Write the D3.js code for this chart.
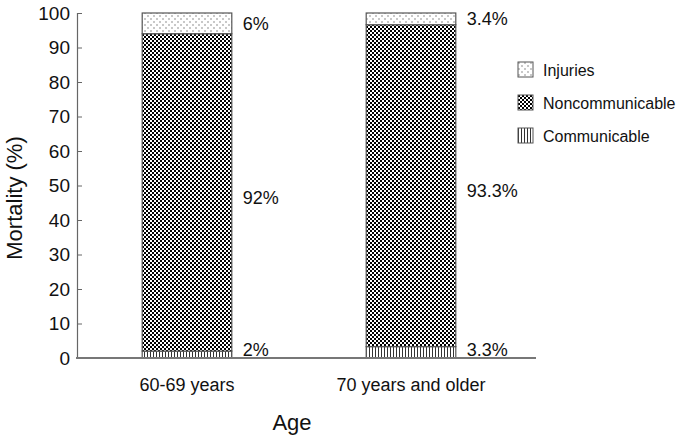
<!DOCTYPE html>
<html>
<head>
<meta charset="utf-8">
<script src="https://cdn.jsdelivr.net/npm/d3@7"></script>
<style>
  body { margin: 0; background: #fff; }
  text { font-family: "Liberation Sans", Arial, sans-serif; fill: #111; }
</style>
</head>
<body>
<div id="chart"></div>
<script>
// data
var ageGroups = ["60-69 years", "70 years and older"];
var communicable = [2, 3.3];
var noncommunicable = [92, 93.3];
var injuries = [6, 3.4];
var seriesNames = ["Communicable", "Noncommunicable", "Injuries"];
var yTicks = [0, 10, 20, 30, 40, 50, 60, 70, 80, 90, 100];

var W = 700, H = 437;
var svg = d3.select("#chart").append("svg")
  .attr("width", W)
  .attr("height", H);

// patterns
var defs = svg.append("defs");

var pDots = defs.append("pattern")
  .attr("id", "pat-inj")
  .attr("patternUnits", "userSpaceOnUse")
  .attr("width", 6).attr("height", 6);
pDots.append("rect").attr("width", 6).attr("height", 6).attr("fill", "#fff");
pDots.append("circle").attr("cx", 1).attr("cy", 1).attr("r", 0.7).attr("fill", "#666");
pDots.append("circle").attr("cx", 4).attr("cy", 4).attr("r", 0.7).attr("fill", "#666");

// checkerboard 2px cells
var pCheck = defs.append("pattern")
  .attr("id", "pat-nc")
  .attr("patternUnits", "userSpaceOnUse")
  .attr("width", 4).attr("height", 4);
pCheck.append("rect").attr("width", 4).attr("height", 4).attr("fill", "#fff");
pCheck.append("rect").attr("width", 2).attr("height", 2).attr("fill", "#000").attr("shape-rendering", "crispEdges");
pCheck.append("rect").attr("x", 2).attr("y", 2).attr("width", 2).attr("height", 2).attr("fill", "#000").attr("shape-rendering", "crispEdges");

var pLines = defs.append("pattern")
  .attr("id", "pat-com")
  .attr("patternUnits", "userSpaceOnUse")
  .attr("width", 3).attr("height", 3);
pLines.append("rect").attr("width", 3).attr("height", 3).attr("fill", "#fff");
pLines.append("rect").attr("width", 1).attr("height", 3).attr("fill", "#333");

var fills = {"Communicable": "url(#pat-com)", "Noncommunicable": "url(#pat-nc)", "Injuries": "url(#pat-inj)"};

// scales
var y = d3.scaleLinear().domain([0, 100]).range([358, 13]);
var x = d3.scaleBand().domain(ageGroups).range([75, 523]).paddingInner(0.6).paddingOuter(0.3);

// stack
var rows = ageGroups.map(function(a, i) {
  return {age: a, Communicable: communicable[i], Noncommunicable: noncommunicable[i], Injuries: injuries[i]};
});
var stack = d3.stack().keys(seriesNames)(rows);

var layers = svg.selectAll("g.layer")
  .data(stack)
  .enter().append("g")
  .attr("class", "layer");

layers.selectAll("rect")
  .data(function(s) { return s.map(function(d) { d.key = s.key; return d; }); })
  .enter().append("rect")
  .attr("x", function(d) { return x(d.data.age); })
  .attr("y", function(d) { return y(d[1]); })
  .attr("width", x.bandwidth())
  .attr("height", function(d) { return y(d[0]) - y(d[1]); })
  .attr("fill", function(d) { return fills[d.key]; })
  .attr("stroke", "#555")
  .attr("stroke-width", 1.2);

// value labels (big segment label sits a little below the middle)
layers.selectAll("text.val")
  .data(function(s) { return s.map(function(d) { d.key = s.key; return d; }); })
  .enter().append("text")
  .attr("class", "val")
  .attr("x", function(d) { return x(d.data.age) + x.bandwidth() + 11; })
  .attr("y", function(d) {
    var m = y((d[0] + d[1]) / 2);
    if (d.key == "Noncommunicable") m += 5;
    return Math.min(m, 350);
  })
  .attr("dy", "0.35em")
  .style("font-size", "18px")
  .text(function(d) { return d.data[d.key] + "%"; });

// y axis
var yAxis = svg.append("g")
  .attr("transform", "translate(77,0)")
  .call(d3.axisRight(y).tickValues(yTicks).tickSize(5).tickFormat(""));
yAxis.select(".domain").attr("stroke", "#666").attr("stroke-width", 1.2);
yAxis.selectAll(".tick line").attr("stroke", "#666");

svg.selectAll("text.ytick")
  .data(yTicks)
  .enter().append("text")
  .attr("class", "ytick")
  .attr("x", 70)
  .attr("y", function(d) { return y(d); })
  .attr("dy", "0.36em")
  .attr("text-anchor", "end")
  .style("font-size", "19px")
  .text(function(d) { return d; });

// x axis line
svg.append("line")
  .attr("x1", 76).attr("x2", 536)
  .attr("y1", y(0)).attr("y2", y(0))
  .attr("stroke", "#777")
  .attr("stroke-width", 2);

svg.selectAll("text.xtick")
  .data(ageGroups)
  .enter().append("text")
  .attr("class", "xtick")
  .attr("x", function(d) { return x(d) + x.bandwidth() / 2; })
  .attr("y", 391)
  .attr("text-anchor", "middle")
  .style("font-size", "18px")
  .text(function(d) { return d; });

// axis titles
svg.append("text")
  .attr("x", 292).attr("y", 430)
  .attr("text-anchor", "middle")
  .style("font-size", "22px")
  .text("Age");

svg.append("text")
  .attr("transform", "translate(22,198) rotate(-90)")
  .attr("text-anchor", "middle")
  .style("font-size", "22px")
  .text("Mortality (%)");

// legend
var legendItems = ["Injuries", "Noncommunicable", "Communicable"];
var legend = svg.selectAll("g.legend")
  .data(legendItems)
  .enter().append("g")
  .attr("class", "legend")
  .attr("transform", function(d, i) { return "translate(518," + (62 + i * 33) + ")"; });

legend.append("rect")
  .attr("width", 15).attr("height", 15)
  .attr("fill", function(d) { return fills[d]; })
  .attr("stroke", "#555")
  .attr("stroke-width", 1);

legend.append("text")
  .attr("x", 25).attr("y", 8)
  .attr("dy", "0.35em")
  .style("font-size", "16px")
  .text(function(d) { return d; });
</script>
</body>
</html>
